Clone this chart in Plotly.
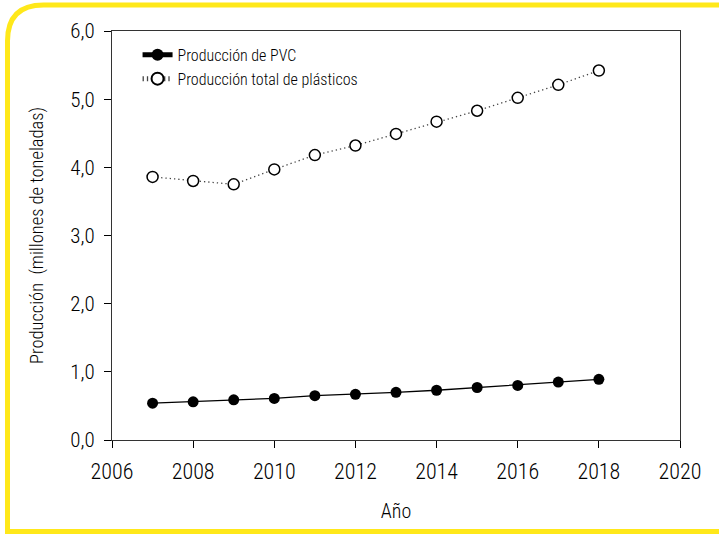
import plotly.graph_objects as go

# Production data (millions of tonnes)
years = [2007, 2008, 2009, 2010, 2011, 2012, 2013, 2014, 2015, 2016, 2017, 2018]
pvc = [0.54, 0.56, 0.59, 0.61, 0.65, 0.67, 0.70, 0.73, 0.77, 0.80, 0.85, 0.89]
plasticos = [3.86, 3.80, 3.75, 3.97, 4.18, 4.32, 4.49, 4.67, 4.83, 5.02, 5.21, 5.42]

x_ticks = [2006, 2008, 2010, 2012, 2014, 2016, 2018, 2020]
y_ticks = [0, 1, 2, 3, 4, 5, 6]
y_tick_text = ["0,0", "1,0", "2,0", "3,0", "4,0", "5,0", "6,0"]

W, H = 719, 535
ML, MR, MT, MB = 112, 39, 31, 95
FONT = "Roboto Condensed, DejaVu Sans Condensed, sans-serif"

fig = go.Figure()
fig.add_trace(go.Scatter(
    x=years, y=pvc, name="Producción de PVC", mode="lines+markers",
    line=dict(color="black", width=1.3),
    marker=dict(symbol="circle", size=11, color="black"),
))
fig.add_trace(go.Scatter(
    x=years, y=plasticos, name="Producción total de plásticos", mode="lines+markers",
    line=dict(color="#444444", width=1.3, dash="1.3px,3px"),
    marker=dict(symbol="circle", size=11, color="white",
                line=dict(color="black", width=1.5)),
))

# Yellow frame with a rounded top-left corner, expressed in paper coordinates
pw, ph = W - ML - MR, H - MT - MB
def px(x):
    return (x - ML) / pw
def py(y):
    return (H - MB - y) / ph

r = 36
lx, ty, by = 7.5, 5.0, 531.5
frame = (f"M {px(W + 10)},{py(by)} L {px(lx)},{py(by)} L {px(lx)},{py(ty + r)} "
         f"Q {px(lx)},{py(ty)} {px(lx + r)},{py(ty)} L {px(W + 10)},{py(ty)}")

fig.update_layout(
    width=W, height=H,
    margin=dict(l=ML, r=MR, t=MT, b=MB),
    paper_bgcolor="white", plot_bgcolor="white",
    font=dict(family=FONT, color="black", size=19, weight=300),
    showlegend=True,
    legend=dict(x=0.045, y=0.983, xanchor="left", yanchor="top",
                bgcolor="rgba(0,0,0,0)", font=dict(size=16, family=FONT, weight=300),
                tracegroupgap=0, itemsizing="constant"),
    xaxis=dict(range=[2006, 2020], tickvals=x_ticks, showgrid=False, zeroline=False,
               ticks="outside", ticklen=7, tickcolor="black", showline=True,
               linecolor="#333333", linewidth=1, mirror=True, ticklabelstandoff=5,
               title=dict(text="Año", font=dict(size=20, weight=300), standoff=20),
               tickfont=dict(size=22, weight=300)),
    yaxis=dict(range=[0, 6], tickvals=y_ticks, ticktext=y_tick_text, showgrid=False,
               zeroline=False, ticks="outside", ticklen=7, tickcolor="black",
               showline=True, linecolor="#333333", linewidth=1, mirror=True,
               ticklabelstandoff=5,
               title=dict(text="Producción  (millones de toneladas)",
                          font=dict(size=18.5, weight=300), standoff=21),
               tickfont=dict(size=21, weight=300)),
    shapes=[dict(type="path", xref="paper", yref="paper", path=frame,
                 line=dict(color="#FFE81A", width=5), layer="above")],
)

fig.write_html("out.html")
